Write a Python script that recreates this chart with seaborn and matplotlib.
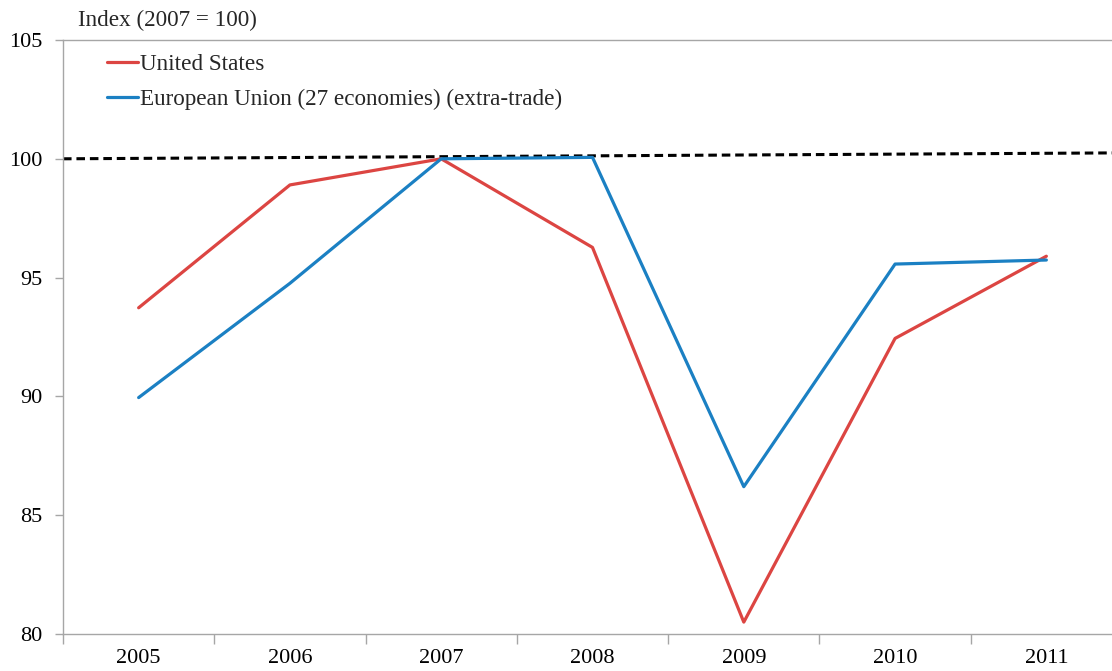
import matplotlib
matplotlib.use("Agg")
import matplotlib.pyplot as plt
import seaborn as sns
import numpy as np
import pandas as pd

years = [2005, 2006, 2007, 2008, 2009, 2010, 2011]
us_values = [93.73, 98.9, 100.0, 96.27, 80.5, 92.44, 95.9]
eu_values = [89.95, 94.76, 100.0, 100.06, 86.2, 95.57, 95.74]
series_names = ["United States", "European Union (27 economies) (extra-trade)"]
reference_values = [100.0, 100.25]
y_ticks = [80, 85, 90, 95, 100, 105]
axis_title = "Index (2007 = 100)"

df = pd.DataFrame({
    "year": years * 2,
    "value": us_values + eu_values,
    "series": [series_names[0]] * len(years) + [series_names[1]] * len(years),
})

sns.set_style("white")
plt.rcParams["font.family"] = ["Liberation Serif", "DejaVu Serif"]

fig = plt.figure(figsize=(11.12, 6.71), dpi=100)
ax = fig.add_axes([63 / 1112, 37 / 671, 1059 / 1112, 594 / 671])

palette = {series_names[0]: "#dc4542", series_names[1]: "#1b80c3"}
sns.lineplot(data=df, x="year", y="value", hue="series", palette=palette,
             linewidth=2.3, ax=ax, legend=True)

ref_x = [years[0] - 0.5, years[-1] + 0.5]
ax.plot(ref_x, reference_values, color="black", linewidth=2.2,
        linestyle=(0, (2.8, 1.6)), zorder=1)

ax.set_xlim(years[0] - 0.5, years[-1] + 0.5)
ax.set_ylim(y_ticks[0], y_ticks[-1])
ax.set_yticks(y_ticks)
ax.set_xticks(years)
ax.set_xticks(np.arange(years[0] - 0.5, years[-1] + 1, 1), minor=True)
ax.set_xlabel("")
ax.set_ylabel("")

ax.tick_params(axis="x", which="major", length=0, pad=11, labelsize=16, colors="black")
ax.tick_params(axis="x", which="minor", length=7, width=1, color="#a6a6a6", direction="out", bottom=True)
ax.tick_params(axis="y", which="major", length=6, width=1, color="#a6a6a6", direction="out",
               left=True, pad=9, labelsize=16, labelcolor="black")

for side in ["left", "bottom", "top", "right"]:
    ax.spines[side].set_color("#a6a6a6")
    ax.spines[side].set_linewidth(1)

handles, labels = ax.get_legend_handles_labels()
ax.legend(handles, labels, loc="upper left", bbox_to_anchor=(44 / 1059, 1 - 14 / 594),
          frameon=False, fontsize=16.7, handlelength=1.34, handletextpad=0.1,
          labelspacing=0.6, borderpad=0, borderaxespad=0)

fig.text(78 / 1112, 1 - 20 / 671, axis_title, fontsize=16.7, va="center", ha="left")

fig.savefig("out.png", dpi=100)
